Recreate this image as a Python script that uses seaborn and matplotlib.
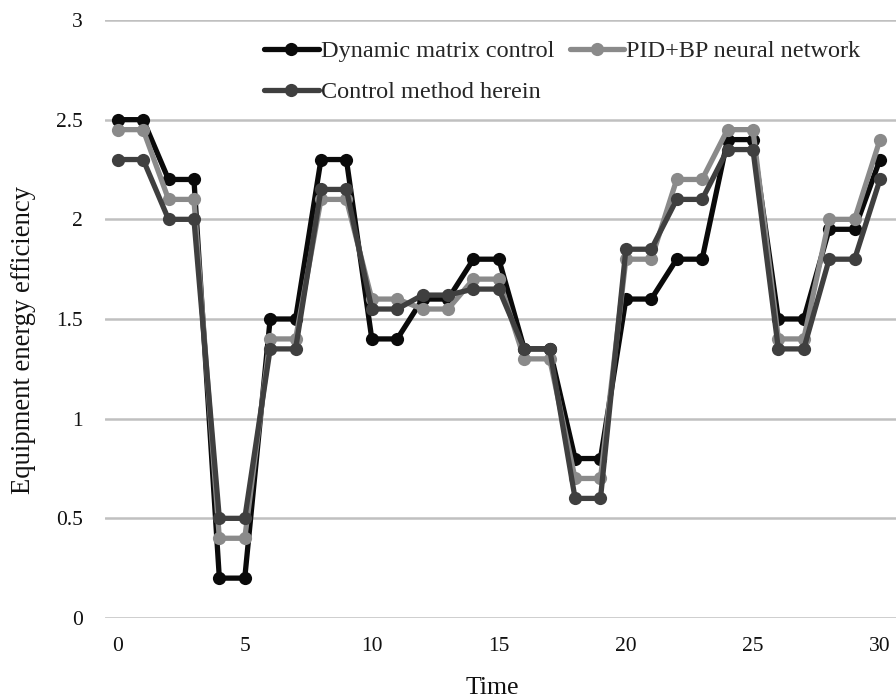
import matplotlib
matplotlib.use("Agg")
import matplotlib.pyplot as plt
import seaborn as sns
import pandas as pd
import numpy as np

time = list(range(31))
dynamic_matrix = [2.5, 2.5, 2.2, 2.2, 0.2, 0.2, 1.5, 1.5, 2.3, 2.3, 1.4, 1.4, 1.6, 1.6, 1.8, 1.8,
                  1.35, 1.35, 0.8, 0.8, 1.6, 1.6, 1.8, 1.8, 2.4, 2.4, 1.5, 1.5, 1.95, 1.95, 2.3]
pid_bp = [2.45, 2.45, 2.1, 2.1, 0.4, 0.4, 1.4, 1.4, 2.1, 2.1, 1.6, 1.6, 1.55, 1.55, 1.7, 1.7,
          1.3, 1.3, 0.7, 0.7, 1.8, 1.8, 2.2, 2.2, 2.45, 2.45, 1.4, 1.4, 2.0, 2.0, 2.4]
method_herein = [2.3, 2.3, 2.0, 2.0, 0.5, 0.5, 1.35, 1.35, 2.15, 2.15, 1.55, 1.55, 1.62, 1.62, 1.65, 1.65,
                 1.35, 1.35, 0.6, 0.6, 1.85, 1.85, 2.1, 2.1, 2.35, 2.35, 1.35, 1.35, 1.8, 1.8, 2.2]
series_names = ["Dynamic matrix control", "PID+BP neural network", "Control method herein"]
x_ticks = [0, 5, 10, 15, 20, 25, 30]
y_ticks = [0, 0.5, 1, 1.5, 2, 2.5, 3]
y_tick_labels = ["0", "0.5", "1", "1.5", "2", "2.5", "3"]

df = pd.DataFrame({
    "Time": time * 3,
    "value": dynamic_matrix + pid_bp + method_herein,
    "series": [series_names[0]] * 31 + [series_names[1]] * 31 + [series_names[2]] * 31,
})

sns.set_theme(style="white")
plt.rcParams["font.family"] = ["Liberation Serif", "DejaVu Serif"]

fig = plt.figure(figsize=(8.96, 7.0), dpi=100)
ax = fig.add_axes([105 / 896, 82 / 700, 791 / 896, 598 / 700])

palette = {series_names[0]: "#0a0a0a", series_names[1]: "#8a8a8a", series_names[2]: "#3f3f3f"}
sns.lineplot(data=df, x="Time", y="value", hue="series", hue_order=series_names,
             palette=palette, marker="o", markersize=9.5, linewidth=3.8,
             markeredgewidth=0, ax=ax, legend=True)

ax.set_xlim(-0.5, 30.63)
ax.set_ylim(0, 3)
ax.set_xticks(x_ticks)
ax.set_yticks(y_ticks)
ax.set_yticklabels(y_tick_labels)
ax.grid(axis="y", color="#c0c0c0", linewidth=1.8)
ax.set_axisbelow(True)
for s in ax.spines.values():
    s.set_visible(False)
ax.tick_params(axis="both", length=0, labelsize=15.5, colors="#111111")
ax.tick_params(axis="x", pad=14)
ax.tick_params(axis="y", pad=16)
ax.set_xlabel("Time", fontsize=18.5, color="#111111")
ax.set_ylabel("Equipment energy efficiency", fontsize=19.2, color="#111111")
ax.xaxis.set_label_coords((492 - 105) / 791, (618 - 688) / 598)
ax.yaxis.set_label_coords((24 - 105) / 791, (618 - 340) / 598)
ax.xaxis.label.set_va("center")
ax.yaxis.label.set_va("center")

handles, labels = ax.get_legend_handles_labels()
order = [0, 2, 1]
leg = ax.legend([handles[i] for i in order], [labels[i] for i in order], ncol=2, loc="upper left",
                bbox_to_anchor=(264 / 896, 1 - 40 / 700),
                bbox_transform=fig.transFigure, frameon=False, fontsize=17.5, handlelength=2.25,
                handletextpad=0.08, columnspacing=0.65, labelspacing=0.8, borderaxespad=0, borderpad=0)

fig.savefig("out.png", dpi=100)
